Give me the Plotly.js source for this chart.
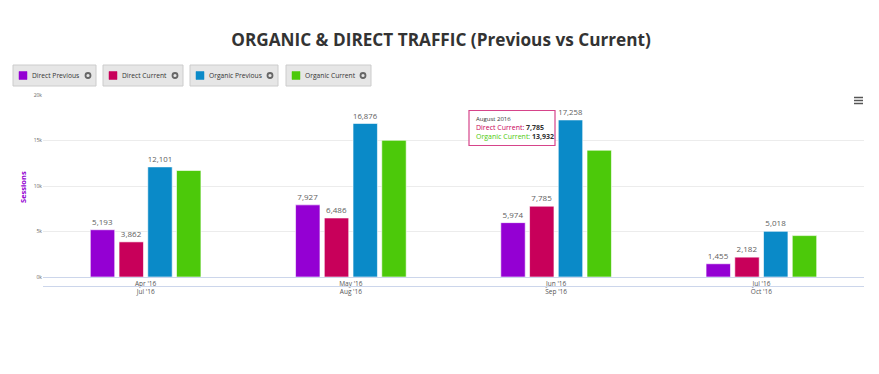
<!DOCTYPE html>
<html>
<head>
<meta charset="utf-8">
<script src="https://cdn.plot.ly/plotly-3.0.1.min.js"></script>
<style>html,body{margin:0;padding:0;background:#fff;}#chart{width:879px;height:374px;}</style>
</head>
<body>
<div id="chart"></div>
<script>
// ---- data ----
var categories = ["Apr '16", "May '16", "Jun '16", "Jul '16"];
var categoriesCurrent = ["Jul '16", "Aug '16", "Sep '16", "Oct '16"];
var seriesNames = ["Direct Previous", "Direct Current", "Organic Previous", "Organic Current"];
var directPrevious = [5193, 7927, 5974, 1455];
var directCurrent = [3862, 6486, 7785, 2182];
var organicPrevious = [12101, 16876, 17258, 5018];
var organicCurrent = [11700, 15020, 13932, 4550];
var yTickVals = [0, 5000, 10000, 15000, 20000];
var yTickText = ["0k", "5k", "10k", "15k", "20k"];
var tooltipTitle = "August 2016";
var tooltipIndex = 2;

var colors = ["#9400D3", "#C8005A", "#0A8AC8", "#4CC90A"];
var values = [directPrevious, directCurrent, organicPrevious, organicCurrent];
var showLabels = [true, true, true, false];

// pixel -> paper helpers
var L = 43, R = 864, T = 95, B = 277;
function px(x) { return (x - L) / (R - L); }
function py(y) { return (B - y) / (B - T); }

var fmt = function (v) { return v.toLocaleString('en-US'); };

var traces = values.map(function (vals, i) {
  return {
    type: 'bar',
    name: seriesNames[i],
    x: categories,
    y: vals,
    marker: { color: colors[i], line: { color: 'rgba(255,255,255,0.6)', width: 1 } },
    text: showLabels[i] ? vals.map(fmt) : null,
    textposition: showLabels[i] ? 'outside' : 'none',
    textfont: { family: 'Open Sans, sans-serif', size: 8, color: '#606060' },
    cliponaxis: false,
    hoverinfo: 'none'
  };
});

var tickText = categories.map(function (c, i) { return c + '<br>' + categoriesCurrent[i]; });

var shapes = [
  { type: 'line', xref: 'paper', yref: 'paper', x0: 0, x1: 1, y0: py(286.5), y1: py(286.5),
    line: { color: '#ccd6eb', width: 1 } }
];
var annotations = [];

// legend buttons
var legendBoxes = [[13, 96], [103, 183], [190, 278], [286, 371]];
legendBoxes.forEach(function (b, i) {
  shapes.push({ type: 'rect', xref: 'paper', yref: 'paper', x0: px(b[0]), x1: px(b[1]), y0: py(86), y1: py(65),
    fillcolor: '#e6e6e6', line: { color: '#cccccc', width: 1 } });
  shapes.push({ type: 'rect', xref: 'paper', yref: 'paper', x0: px(b[0] + 6), x1: px(b[0] + 14), y0: py(79.5), y1: py(71.5),
    fillcolor: colors[i], line: { color: colors[i], width: 0.5 } });
  shapes.push({ type: 'circle', xref: 'paper', yref: 'paper', x0: px(b[1] - 10.5), x1: px(b[1] - 5.5), y0: py(78), y1: py(73),
    fillcolor: 'rgba(0,0,0,0)', line: { color: '#666666', width: 1.8 } });
  annotations.push({ xref: 'paper', yref: 'paper', x: px(b[0] + 17), y: py(75.5), xanchor: 'left', yanchor: 'middle',
    text: seriesNames[i], showarrow: false, font: { family: 'Open Sans, sans-serif', size: 6.7, color: '#333333' } });
});

// y title
annotations.push({ xref: 'paper', yref: 'paper', x: px(23), y: py(187), textangle: -90, xanchor: 'center', yanchor: 'middle',
  text: '<b>Sessions</b>', showarrow: false, font: { family: 'Open Sans, sans-serif', size: 7.5, color: '#9400D3' } });

// tooltip
shapes.push({ type: 'rect', xref: 'paper', yref: 'paper', x0: px(469), x1: px(555), y0: py(145.5), y1: py(110.5),
  fillcolor: 'rgba(255,255,255,0.95)', line: { color: '#D6448A', width: 1.2 } });
annotations.push({ xref: 'paper', yref: 'paper', x: px(474), y: py(128), xanchor: 'left', yanchor: 'middle', align: 'left',
  showarrow: false, font: { family: 'Open Sans, sans-serif', size: 7, color: '#333333' },
  text: '<span style="font-size:6px">' + tooltipTitle + '</span><br>' +
        '<span style="color:' + colors[1] + '">' + seriesNames[1] + ': </span><b>' + fmt(directCurrent[tooltipIndex]) + '</b><br>' +
        '<span style="color:' + colors[3] + '">' + seriesNames[3] + ': </span><b>' + fmt(organicCurrent[tooltipIndex]) + '</b>' });

// menu icon
[97.5, 100.5, 103.5].forEach(function (y) {
  shapes.push({ type: 'line', xref: 'paper', yref: 'paper', x0: px(854), x1: px(863), y0: py(y), y1: py(y),
    line: { color: '#555555', width: 1.5 } });
});

var layout = {
  width: 879, height: 374,
  margin: { l: L, r: 879 - R, t: T, b: 374 - B },
  paper_bgcolor: '#ffffff', plot_bgcolor: '#ffffff',
  title: { text: '<b>ORGANIC & DIRECT TRAFFIC (Previous vs Current)</b>', x: 441 / 879, xref: 'container', xanchor: 'center',
    y: 1 - 40 / 374, yref: 'container', yanchor: 'middle',
    font: { family: 'Open Sans, sans-serif', size: 17.2, color: '#333333' } },
  showlegend: false,
  barmode: 'group',
  bargap: 0.44,
  bargroupgap: 0.15,
  xaxis: {
    type: 'category', range: [-0.5, 3.5],
    tickvals: categories, ticktext: tickText,
    tickfont: { family: 'Open Sans, sans-serif', size: 6.5, color: '#555555' },
    showline: true, linecolor: '#ccd6eb', linewidth: 1,
    showgrid: false, ticks: '', ticklabelstandoff: 0, fixedrange: true
  },
  yaxis: {
    range: [0, 20000], tickvals: yTickVals, ticktext: yTickText,
    tickfont: { family: 'Open Sans, sans-serif', size: 5, color: '#666666' },
    gridcolor: '#ececec', gridwidth: 1, zeroline: false, showline: false, ticks: '', fixedrange: true
  },
  shapes: shapes,
  annotations: annotations
};

Plotly.newPlot('chart', traces, layout, { displayModeBar: false, staticPlot: true });
</script>
</body>
</html>
